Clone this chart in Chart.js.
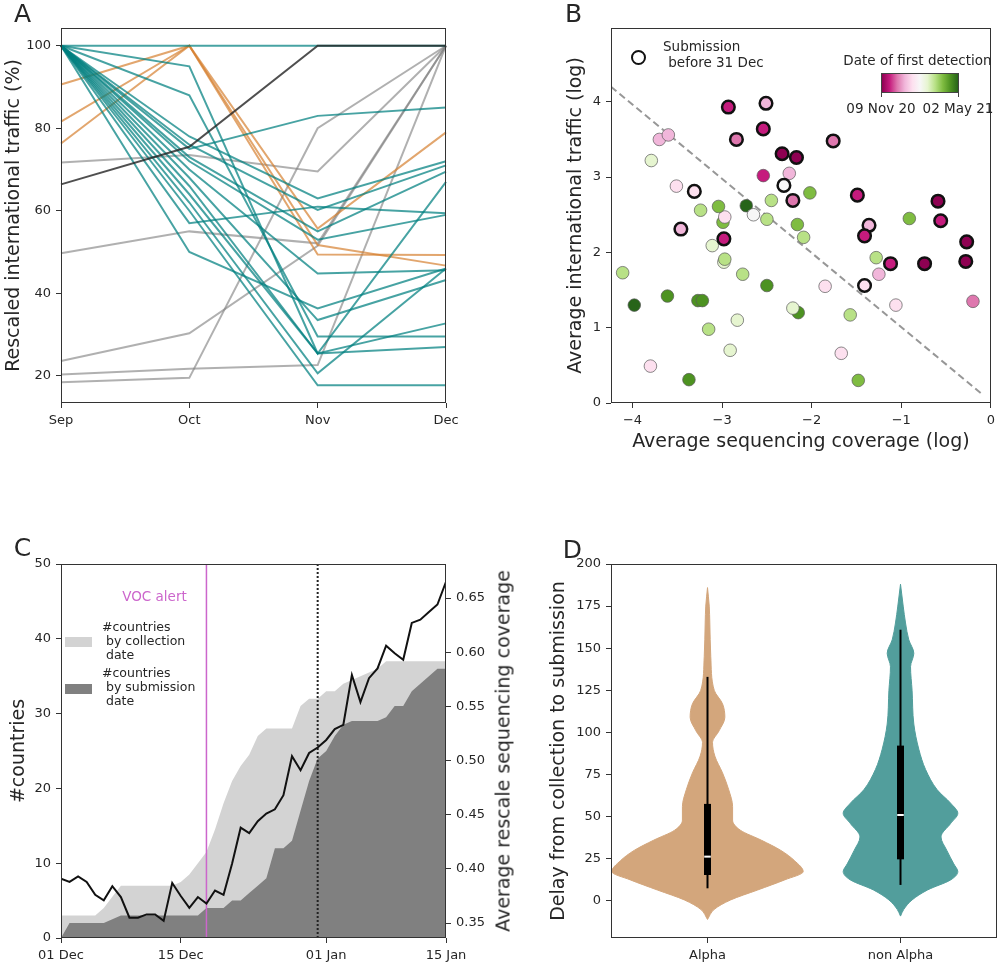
<!DOCTYPE html>
<html>
<head>
<meta charset="utf-8">
<title>Figure</title>
<script src="https://cdn.jsdelivr.net/npm/chart.js@4.4.1/dist/chart.umd.min.js"></script>
<style>
  body { margin: 0; width: 1000px; height: 962px; position: relative; overflow: hidden; background: #fff;
         font-family: 'DejaVu Sans', sans-serif; color: #262626; }
  canvas { position: absolute; }
  .lbl { position: absolute; white-space: pre; line-height: 1; }
  .box { position: absolute; box-sizing: border-box; }
</style>
</head>
<body>
<canvas id="chartA" width="500" height="470" style="left:0;top:0"></canvas>
<canvas id="chartB" width="500" height="470" style="left:500px;top:0"></canvas>
<canvas id="chartC" width="520" height="472" style="left:0;top:490px"></canvas>
<canvas id="chartD" width="500" height="472" style="left:500px;top:490px"></canvas>
<script>
// ---- Panel A: rescaled international traffic per country ----
const months = ['Sep', 'Oct', 'Nov', 'Dec'];
const blackLine = [66.4, 75.5, 100, 100];
const tealLines = [
  [100, 100, 100, 100],
  [100, 75, 83, 85],
  [100, 95, 25.4, 67],
  [100, 88, 29.5, 29.5],
  [100, 78, 63, 72],
  [100, 76, 60.2, 71],
  [100, 73, 55, 69.5],
  [100, 72, 53, 59],
  [100, 70, 44.8, 45.6],
  [100, 57, 61, 59.4],
  [100, 50, 36.3, 46],
  [100, 68, 33.5, 43.2],
  [100, 66, 25.4, 32.7],
  [100, 64, 25.4, 27],
  [100, 62, 20.6, 46],
  [100, 60, 17.7, 17.7]
];
const orangeLines = [
  [90.6, 100, 55.7, 79],
  [81.6, 100, 51.7, 46.7],
  [76.3, 100, 49.4, 49.3]
];
const greyLines = [
  [71.7, 73.5, 69.5, 100],
  [49.7, 55, 52.1, 100],
  [23.6, 30.3, 51.5, 100],
  [18.4, 19.5, 80, 100],
  [20.3, 21.7, 22.6, 100]
];
const aTicks = [20, 40, 60, 80, 100];

// ---- Panel B: coverage vs traffic ----
const bX = [-2.93,-2.51,-2.54,-2.84,-1.76,-2.33,-2.17,-2.54,-2.25,-2.31,-2.21,-2.02,-1.49,-0.59,-0.56,-1.36,-1.41,-0.91,-0.27,-0.28,
            -0.74,-1.12,-1.25,-1.28,-1.41,-0.20,-1.06,-1.85,-1.57,-1.67,-1.48,-2.15,-2.21,-2.50,-2.83,-2.91,-3.15,-3.37,-3.80,-3.98,
            -4.11,-3.61,-3.27,-3.22,-2.77,-2.98,-2.97,-3.11,-3.46,-2.98,-2.99,-2.97,-3.24,-3.04,-2.73,-2.65,-2.50,-2.45,-2.16,-2.09,
            -3.31,-3.51,-3.79,-3.70,-3.60];
const bY = [3.93,3.98,3.64,3.50,3.48,3.31,3.26,3.02,3.05,2.89,2.69,2.79,2.76,2.68,2.42,2.36,2.22,2.45,2.14,1.88,
            1.85,1.85,1.71,1.93,1.56,1.35,1.30,1.55,1.17,0.66,0.30,1.20,1.26,1.56,1.10,0.70,0.98,0.31,0.49,1.30,
            1.73,1.42,1.36,1.36,1.71,1.87,1.91,2.09,2.31,2.18,2.40,2.47,2.56,2.61,2.62,2.50,2.44,2.69,2.37,2.20,
            2.81,2.88,3.22,3.50,3.56];
// detection date as a step on the PiYG scale (0 = earliest, 10 = latest)
const bShade = [1,3,1,2,2,0,0,1,3,5,2,8,1,0,1,3,1,8,0,0,
                0,1,3,7,4,2,4,4,7,4,8,9,6,9,6,6,7,9,4,10,
                7,9,9,9,7,6,7,6,3,1,8,4,7,8,10,5,7,7,8,7,
                4,4,6,3,3];
// 1 = submission before 31 Dec
const bEarly = [1,1,1,1,1,1,1,0,0,1,1,0,1,1,1,1,1,0,1,1,
                1,1,0,0,1,0,0,0,0,0,0,0,0,0,0,0,0,0,0,0,
                0,0,0,0,0,0,0,0,1,1,0,0,0,0,0,0,0,0,0,0,
                1,0,0,0,0];
const dashX = [-4.24, -0.09];
const dashY = [4.2, 0.11];
const bXTicks = [-4, -3, -2, -1, 0];
const bYTicks = [0, 1, 2, 3, 4];
const piyg = ['#8e0152','#c51b7d','#de77ae','#f1b6da','#fde0ef','#f7f7f7','#e6f5d0','#b8e186','#7fbc41','#4d9221','#276419'];

// ---- Panel C: countries over time (daily, 01 Dec - 15 Jan) ----
const cLight = [3,3,3,3,3,4,5.5,7,7,7,7,7,7,7,7.5,8.5,10,11.5,14.5,18,21,23,24.5,27,28,28,28,28,31,32,32,33,33,34,34.5,35,35.5,36,37,37,37,37,37,37,37,37];
const cDark = [0,2,2,2,2,2,2.5,3,3,3,3,3,3,3,3,3,3,4,4,4,5,5,6,7,8,12,12,13,17,21,24,25,27,28.5,29,29,29,29,29.5,31,31,33,34,35,36,36];
const cCoverage = [0.391,0.388,0.393,0.388,0.376,0.371,0.384,0.374,0.355,0.355,0.358,0.358,0.352,0.387,0.375,0.364,0.374,0.368,0.380,0.376,
                   0.405,0.438,0.433,0.444,0.451,0.455,0.468,0.504,0.491,0.507,0.512,0.519,0.529,0.533,0.579,0.554,0.576,0.585,0.606,0.599,
                   0.593,0.627,0.630,0.637,0.644,0.665];
const vocDay = 17;
const cutoffDay = 30;
const cTickDays = [0, 14, 31, 45];
const cTickLabels = ['01 Dec', '15 Dec', '01 Jan', '15 Jan'];
const cCountTicks = [0, 10, 20, 30, 40, 50];
const cCovTicks = [0.35, 0.40, 0.45, 0.50, 0.55, 0.60, 0.65];

// ---- Panel D: delay violins ----
const dCats = ['Alpha', 'non Alpha'];
const alphaY = [-11,-5,0.6,6.5,12.5,17.4,24,30,36,42,48,56,66,76,86,94,101,109,117,125,145,165,175,186];
const alphaW = [0,0.035,0.12,0.26,0.40,0.496,0.45,0.38,0.28,0.17,0.13,0.13,0.11,0.078,0.038,0.026,0.06,0.09,0.078,0.035,0.017,0.012,0.009,0];
const nonY = [-9,-5,0.6,6.5,12.5,17.4,22,30,38,46,52,58,66,78,90,105,125,139,147,155,165,175,188];
const nonW = [0,0.017,0.06,0.14,0.26,0.297,0.276,0.24,0.21,0.26,0.297,0.26,0.19,0.13,0.095,0.069,0.06,0.052,0.069,0.043,0.026,0.014,0];
const whiskLow = [7.5, 9.5];
const whiskHigh = [133, 161];
const boxLow = [15.4, 24.7];
const boxHigh = [57.6, 92.2];
const medians = [26.3, 51];
const dTicks = [0, 25, 50, 75, 100, 125, 150, 175, 200];

Chart.defaults.font.family = "'DejaVu Sans', sans-serif";
Chart.defaults.font.size = 13;
Chart.defaults.color = '#262626';
Chart.defaults.animation = false;
Chart.defaults.plugins.legend.display = false;
Chart.defaults.plugins.tooltip.enabled = false;

// draws the closed box round the plot area
const frame = {
  id: 'frame',
  afterDatasetsDraw(chart) {
    const a = chart.chartArea, ctx = chart.ctx;
    ctx.save();
    ctx.strokeStyle = '#333';
    ctx.lineWidth = 1;
    ctx.strokeRect(Math.round(a.left) + 0.5, Math.round(a.top) + 0.5,
                   Math.round(a.right - a.left) - 1, Math.round(a.bottom - a.top) - 1);
    ctx.restore();
  }
};

function fixedTicks(vals) {
  return s => { s.ticks = vals.map(v => ({value: v})); };
}

function axisStyle(pos, size, extra) {
  extra = extra || {};
  const ticks = Object.assign({padding: 5, maxRotation: 0, autoSkip: false, color: '#262626'}, extra.ticks);
  return Object.assign({
    position: pos,
    grid: {drawOnChartArea: false, tickLength: 5, tickColor: '#333'},
    border: {display: false},
    afterFit: s => { if (pos === 'bottom') s.height = size; else s.width = size; }
  }, extra, {ticks});
}

function title(text, pad) {
  return {display: true, text: text, color: '#262626', font: {size: 19}, padding: pad};
}

function lineSet(data, color) {
  return {data: data, borderColor: color, borderWidth: 2, pointRadius: 0, fill: false, tension: 0};
}

// ---------- A ----------
const aSets = [lineSet(blackLine, 'rgba(35,35,35,0.8)')];
tealLines.forEach(d => aSets.push(lineSet(d, 'rgba(0,128,128,0.72)')));
orangeLines.forEach(d => aSets.push(lineSet(d, 'rgba(214,128,48,0.7)')));
greyLines.forEach(d => aSets.push(lineSet(d, 'rgba(128,128,128,0.62)')));

new Chart(document.getElementById('chartA'), {
  type: 'line',
  data: {labels: months, datasets: aSets},
  options: {
    responsive: false,
    layout: {padding: {left: 0, right: 54, top: 28, bottom: 0}},
    scales: {
      x: axisStyle('bottom', 67, {type: 'category', offset: false}),
      y: axisStyle('left', 61, {min: 13.4, max: 104.3, afterBuildTicks: fixedTicks(aTicks),
        title: title('Rescaled international traffic (%)', {top: 3, bottom: 0})})
    }
  },
  plugins: [frame]
});

// ---------- B ----------
const early = [], late = [];
bX.forEach((x, i) => {
  const p = {pt: {x: x, y: bY[i]}, color: piyg[bShade[i]]};
  (bEarly[i] ? early : late).push(p);
});

new Chart(document.getElementById('chartB'), {
  type: 'scatter',
  data: {
    datasets: [
      {data: early.map(p => p.pt), pointBackgroundColor: early.map(p => p.color),
       pointBorderColor: '#111', pointBorderWidth: 2.5, pointRadius: 6.3, order: 0},
      {data: late.map(p => p.pt), pointBackgroundColor: late.map(p => p.color),
       pointBorderColor: 'rgba(90,90,90,0.7)', pointBorderWidth: 1, pointRadius: 6.3, order: 1},
      {data: dashX.map((x, i) => ({x: x, y: dashY[i]})), showLine: true, borderDash: [7, 4],
       borderColor: 'rgba(140,140,140,0.9)', borderWidth: 2, pointRadius: 0, order: 2}
    ]
  },
  options: {
    responsive: false,
    layout: {padding: {left: 60, right: 3, top: 28, bottom: 0}},
    scales: {
      x: axisStyle('bottom', 67, {type: 'linear', min: -4.24, max: 0, afterBuildTicks: fixedTicks(bXTicks),
        ticks: {callback: v => String(v).replace('-', '\u2212')},
        title: title('Average sequencing coverage (log)', {top: 4, bottom: 17})}),
      y: axisStyle('left', 51, {type: 'linear', min: 0, max: 4.98, afterBuildTicks: fixedTicks(bYTicks),
        title: title('Average international traffic (log)', {top: 5, bottom: 0})})
    }
  },
  plugins: [frame]
});

// ---------- C ----------
const toPts = arr => arr.map((v, i) => ({x: i, y: v}));
new Chart(document.getElementById('chartC'), {
  type: 'line',
  data: {
    datasets: [
      {data: toPts(cCoverage), yAxisID: 'y2', borderColor: '#111', borderWidth: 2, pointRadius: 0, fill: false, order: 0},
      {data: [{x: vocDay, y: 0}, {x: vocDay, y: 50}], borderColor: '#cc66cc', borderWidth: 1.5, pointRadius: 0, fill: false, order: 1},
      {data: [{x: cutoffDay, y: 0}, {x: cutoffDay, y: 50}], borderColor: '#222', borderWidth: 2, borderDash: [2, 2],
       pointRadius: 0, fill: false, order: 2},
      {data: toPts(cDark), borderWidth: 0, borderColor: '#808080', backgroundColor: '#808080', pointRadius: 0, fill: 'origin', order: 3},
      {data: toPts(cLight), borderWidth: 0, borderColor: '#d3d3d3', backgroundColor: '#d3d3d3', pointRadius: 0, fill: 'origin', order: 4}
    ]
  },
  options: {
    responsive: false,
    layout: {padding: {left: 0, right: 4, top: 74, bottom: 0}},
    scales: {
      x: axisStyle('bottom', 24, {type: 'linear', min: 0, max: 45, afterBuildTicks: fixedTicks(cTickDays),
        ticks: {callback: (v, i) => cTickLabels[i]}}),
      y: axisStyle('left', 61, {type: 'linear', min: 0, max: 50, afterBuildTicks: fixedTicks(cCountTicks),
        title: title('#countries', {top: 8, bottom: 0})}),
      y2: axisStyle('right', 70, {type: 'linear', min: 0.3362, max: 0.6814, afterBuildTicks: fixedTicks(cCovTicks),
        ticks: {callback: v => v.toFixed(2)}})
    }
  },
  plugins: [frame]
});

// ---------- D ----------
function violin(center, ys, ws, color) {
  const common = {borderColor: color, backgroundColor: color, borderWidth: 1, pointRadius: 0,
                  cubicInterpolationMode: 'monotone', order: 5};
  return [
    Object.assign({data: ys.map((y, i) => ({x: center - ws[i], y: y})), fill: '+1'}, common),
    Object.assign({data: ys.map((y, i) => ({x: center + ws[i], y: y})), fill: false}, common)
  ];
}
const dSets = [].concat(
  violin(0, alphaY, alphaW, '#d3a67c'),
  violin(1, nonY, nonW, '#529e9c')
);
dCats.forEach((c, i) => {
  dSets.push({data: [{x: i, y: whiskLow[i]}, {x: i, y: whiskHigh[i]}], borderColor: '#000', borderWidth: 2,
              pointRadius: 0, fill: false, order: 2});
  dSets.push({data: [{x: i, y: boxLow[i]}, {x: i, y: boxHigh[i]}], borderColor: '#000', borderWidth: 7,
              borderCapStyle: 'butt', pointRadius: 0, fill: false, order: 1});
  dSets.push({data: [{x: i - 0.017, y: medians[i]}, {x: i + 0.017, y: medians[i]}], borderColor: '#fff', borderWidth: 2,
              pointRadius: 0, fill: false, order: 0});
});

new Chart(document.getElementById('chartD'), {
  type: 'line',
  data: {datasets: dSets},
  options: {
    responsive: false,
    indexAxis: 'y',
    layout: {padding: {left: 44, right: 3, top: 74, bottom: 0}},
    scales: {
      x: axisStyle('bottom', 24, {type: 'linear', min: -0.5, max: 1.5, afterBuildTicks: fixedTicks([0, 1]),
        ticks: {callback: (v, i) => dCats[i]}}),
      y: axisStyle('left', 67, {type: 'linear', min: -22, max: 200, afterBuildTicks: fixedTicks(dTicks),
        title: title('Delay from collection to submission', {top: 4, bottom: 0})})
    }
  },
  plugins: [frame]
});

// ---------- text and legends ----------
function note(text, x, y, size, opt) {
  opt = opt || {};
  const el = document.createElement('div');
  el.className = 'lbl';
  el.textContent = text;
  el.style.left = x + 'px';
  el.style.top = y + 'px';
  el.style.fontSize = size + 'px';
  if (opt.color) el.style.color = opt.color;
  if (opt.lineHeight) el.style.lineHeight = opt.lineHeight + 'px';
  const tx = opt.align === 'left' ? '0' : '-50%';
  el.style.transform = 'translate(' + tx + ', -50%)' + (opt.rotate ? ' rotate(' + opt.rotate + 'deg)' : '');
  document.body.appendChild(el);
}
function box(x, y, w, h, style) {
  const el = document.createElement('div');
  el.className = 'box';
  el.style.left = x + 'px';
  el.style.top = y + 'px';
  el.style.width = w + 'px';
  el.style.height = h + 'px';
  Object.assign(el.style, style);
  document.body.appendChild(el);
}

note('A', 22.5, 12.5, 25);
note('B', 573.5, 12.5, 25);
note('C', 22.5, 546.5, 25);
note('D', 572.5, 549, 25);

// B legend and colour bar
box(630.5, 49.5, 15, 15, {border: '2.5px solid #111', borderRadius: '50%', background: '#fff'});
note('Submission', 663, 47, 13.5, {align: 'left'});
note(' before 31 Dec', 664, 62.5, 13.5, {align: 'left'});
note('Date of first detection', 917.5, 61, 13.5);
box(881, 73, 78, 20, {border: '1px solid #444',
  background: 'linear-gradient(to right,' + piyg.join(',') + ')'});
box(881, 93, 1, 4, {background: '#444'});
box(958, 93, 1, 4, {background: '#444'});
note('09 Nov 20', 881, 109, 13.5);
note('02 May 21', 958, 109, 13.5);

// C legend, alert label and right axis title
note('VOC alert', 154.5, 597, 13.5, {color: '#cc66cc'});
box(65, 637, 27, 10, {background: '#d3d3d3'});
note('#countries\n by collection\n date', 102, 641, 12.5, {align: 'left', lineHeight: 14});
box(65, 684, 27, 10, {background: '#808080'});
note('#countries\n by submission\n date', 102, 687, 12.5, {align: 'left', lineHeight: 14});
note('Average rescale sequencing coverage', 503, 751, 19, {rotate: -90});
</script>
</body>
</html>
